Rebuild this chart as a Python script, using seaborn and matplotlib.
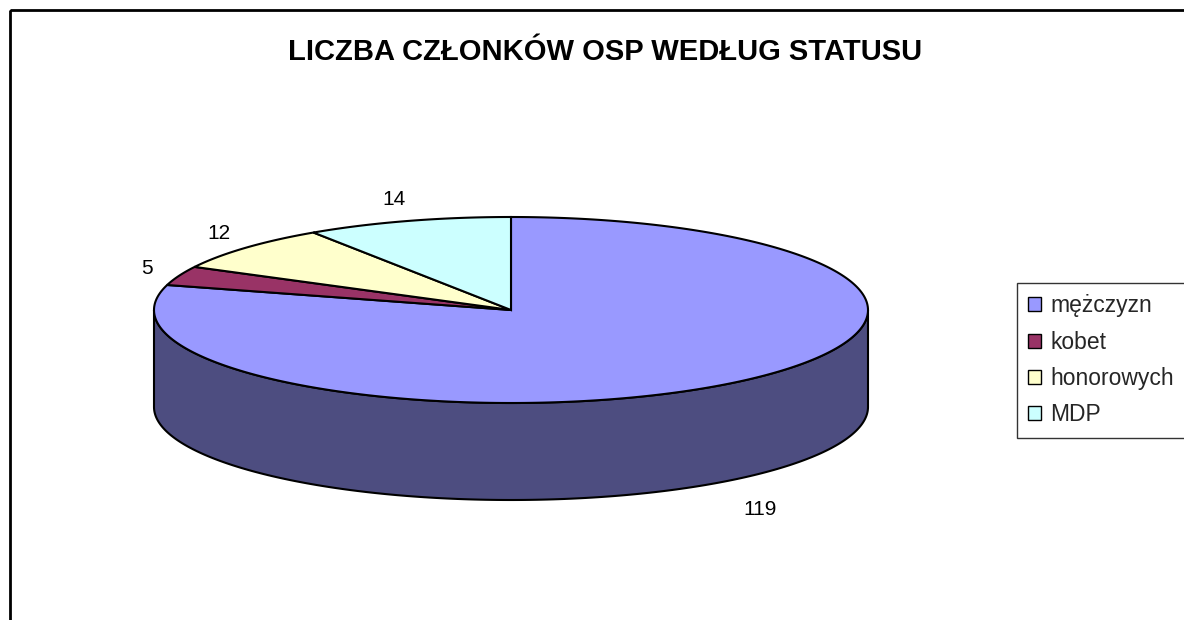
import numpy as np
import matplotlib
matplotlib.use("Agg")
import matplotlib.pyplot as plt
from matplotlib.patches import Patch, Rectangle
import seaborn as sns

# data
categories = ['mężczyzn', 'kobet', 'honorowych', 'MDP']
values = [119, 5, 12, 14]
top_colors = ['#9999FF', '#993366', '#FFFFCC', '#CCFFFF']
side_colors = ['#4D4D80', '#4D1A33', '#808066', '#668080']
title = 'LICZBA CZŁONKÓW OSP WEDŁUG STATUSU'

sns.set_theme(style='white')
plt.rcParams['font.family'] = ['Liberation Sans', 'DejaVu Sans']

W, H = 1184, 620
fig = plt.figure(figsize=(W / 100, H / 100), dpi=100)
ax = fig.add_axes([0, 0, 1, 1])
ax.set_xlim(0, W)
ax.set_ylim(H, 0)
ax.axis('off')

# outer chart frame (cut off at right/bottom like the reference)
ax.add_patch(Rectangle((10, 10), 1200, 700, fill=False, lw=2, ec='black', clip_on=False))

# 3D pie geometry
cx, cy, a, b, depth = 511, 310, 357, 93, 97


def ell(t):
    r = np.radians(t)
    return cx + a * np.cos(r), cy - b * np.sin(r)


total = sum(values)
spans = [v / total * 360 for v in values]
starts = 90 - np.concatenate([[0], np.cumsum(spans)[:-1]])
ends = starts - np.array(spans)

# side wall (front half, 180..360 degrees)
for st, en, sc in zip(starts, ends, side_colors):
    lo, hi = min(st, en), max(st, en)
    for off in (-360, 0, 360):
        l2, h2 = max(lo + off, 180), min(hi + off, 360)
        if h2 > l2:
            t = np.linspace(l2, h2, 200)
            xs, ys = ell(t)
            px = np.concatenate([xs, xs[::-1]])
            py = np.concatenate([ys, ys[::-1] + depth])
            ax.fill(px, py, color=sc, ec='black', lw=1.5, zorder=2)

# top surface
for st, en, tc in zip(starts, ends, top_colors):
    t = np.linspace(st, en, 300)
    xs, ys = ell(t)
    px = np.concatenate([[cx], xs, [cx]])
    py = np.concatenate([[cy], ys, [cy]])
    ax.fill(px, py, color=tc, ec='black', lw=1.5, zorder=3, joinstyle='miter')

# value labels
for st, en, v in zip(starts, ends, values):
    mid = (st + en) / 2
    r = np.radians(mid)
    x, y = ell(mid)
    if np.sin(r) < 0:
        x += 33
        y += depth + 28
    else:
        x += 28 * np.cos(r) - 6
        y -= 24 * np.sin(r) - 2
    ax.text(x, y, str(v), ha='center', va='center', fontsize=15, color='black', zorder=5)

ax.text(605, 52, title, ha='center', va='center', fontsize=21, fontweight='bold', color='black')

handles = [Patch(facecolor=c, edgecolor='black', lw=1) for c in top_colors]
leg = fig.legend(handles, categories, loc='upper left', bbox_to_anchor=(1017 / W, 1 - 283 / H),
                 frameon=True, fancybox=False, fontsize=16.5, handlelength=0.55, handleheight=0.55,
                 handletextpad=0.4, labelspacing=0.58, borderpad=0.5, borderaxespad=0)
leg.get_frame().set_edgecolor('black')
leg.get_frame().set_linewidth(1)

fig.savefig('out.png', dpi=100)
